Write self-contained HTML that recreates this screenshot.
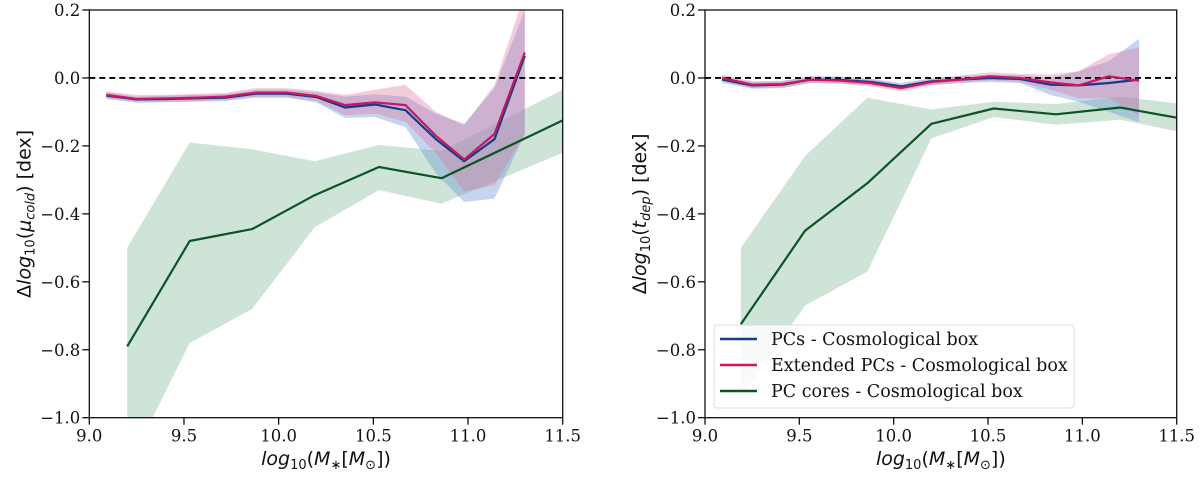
<!DOCTYPE html>
<html><head><meta charset="utf-8">
<style>
html,body{margin:0;padding:0;background:#fff;}
svg{display:block;}
.tick{font-family:"DejaVu Serif","Liberation Serif",serif;font-size:16.5px;fill:#111;}
.lab{font-family:"DejaVu Sans","Liberation Sans",sans-serif;font-size:19px;fill:#111;}
.leg{font-family:"DejaVu Serif","Liberation Serif",serif;font-size:17.5px;fill:#111;}
</style></head>
<body>
<svg id="fig" width="1200" height="477" viewBox="0 0 1200 477" xmlns="http://www.w3.org/2000/svg"></svg>
<script>
// ---------- data ----------
const xTicks = [9.0, 9.5, 10.0, 10.5, 11.0, 11.5];
const yTicks = [0.2, 0.0, -0.2, -0.4, -0.6, -0.8, -1.0];
const binX = [9.09, 9.25, 9.41, 9.56, 9.72, 9.88, 10.04, 10.2, 10.35, 10.51, 10.67, 10.83, 10.98, 11.14, 11.3];
const coreXL = [9.2, 9.53, 9.86, 10.19, 10.53, 10.86, 11.5];
const coreXR = [9.19, 9.53, 9.86, 10.2, 10.53, 10.86, 11.2, 11.5];

// left panel (mu_cold)
const pcL = [-0.052,-0.063,-0.062,-0.060,-0.058,-0.046,-0.046,-0.056,-0.087,-0.078,-0.095,-0.18,-0.245,-0.18,0.065];
const pcLlo = [-0.062,-0.073,-0.072,-0.07,-0.068,-0.058,-0.058,-0.072,-0.118,-0.115,-0.145,-0.28,-0.365,-0.355,-0.165];
const pcLhi = [-0.042,-0.055,-0.052,-0.05,-0.048,-0.035,-0.035,-0.042,-0.055,-0.048,-0.055,-0.105,-0.135,-0.03,0.2];
const extL = [-0.05,-0.062,-0.06,-0.058,-0.055,-0.043,-0.043,-0.053,-0.08,-0.072,-0.08,-0.17,-0.24,-0.165,0.075];
const extLlo = [-0.06,-0.07,-0.07,-0.068,-0.065,-0.055,-0.055,-0.068,-0.11,-0.105,-0.13,-0.22,-0.335,-0.315,-0.165];
const extLhi = [-0.04,-0.05,-0.05,-0.047,-0.044,-0.03,-0.03,-0.038,-0.05,-0.035,-0.02,-0.1,-0.14,-0.02,0.25];
const coreL = [-0.79,-0.48,-0.445,-0.345,-0.262,-0.295,-0.125];
const coreLlo = [-1.15,-0.78,-0.68,-0.44,-0.33,-0.37,-0.22];
const coreLhi = [-0.5,-0.19,-0.21,-0.245,-0.197,-0.215,-0.035];

// right panel (t_dep)
const pcR = [-0.005,-0.022,-0.02,-0.005,-0.006,-0.012,-0.025,-0.01,-0.005,0.0,-0.003,-0.02,-0.022,-0.015,-0.005];
const pcRlo = [-0.015,-0.032,-0.03,-0.015,-0.016,-0.022,-0.035,-0.02,-0.015,-0.012,-0.015,-0.05,-0.07,-0.1,-0.13];
const pcRhi = [0.005,-0.012,-0.01,0.005,0.004,-0.002,-0.015,0.0,0.005,0.01,0.008,0.0,0.02,0.05,0.115];
const extR = [0.0,-0.02,-0.018,-0.005,-0.008,-0.015,-0.03,-0.012,-0.005,0.005,0.0,-0.013,-0.022,0.005,-0.008];
const extRlo = [-0.01,-0.03,-0.028,-0.015,-0.018,-0.025,-0.04,-0.022,-0.015,-0.007,-0.012,-0.035,-0.06,-0.06,-0.11];
const extRhi = [0.01,-0.01,-0.008,0.005,0.002,-0.005,-0.02,-0.002,0.007,0.017,0.012,0.01,0.02,0.07,0.09];
const coreR = [-0.725,-0.45,-0.31,-0.135,-0.09,-0.107,-0.087,-0.117];
const coreRlo = [-0.94,-0.67,-0.57,-0.178,-0.115,-0.138,-0.123,-0.157];
const coreRhi = [-0.5,-0.23,-0.058,-0.093,-0.07,-0.077,-0.055,-0.075];

// ---------- drawing ----------
const NS = "http://www.w3.org/2000/svg";
const svg = document.getElementById('fig');
function mk(tag, attrs, parent){
  const e = document.createElementNS(NS, tag);
  for (const k in attrs) e.setAttribute(k, attrs[k]);
  (parent||svg).appendChild(e);
  return e;
}
const Y0 = 10, Y1 = 417.7;
const yScale = v => Y0 + (0.2 - v) / 1.2 * (Y1 - Y0);

function panel(id, X0, X1, series, ylabelHTML){
  const xs = v => X0 + (v - 9.0) / 2.5 * (X1 - X0);
  const g = mk('g', {});
  
  
  const clipId = 'clip-' + id;
  const cp = mk('clipPath', {id: clipId}, g);
  mk('rect', {x: X0, y: Y0, width: X1 - X0, height: Y1 - Y0}, cp);
  const plot = mk('g', {'clip-path': 'url(#' + clipId + ')'}, g);
  series.forEach(s => {
    let d = '';
    s.x.forEach((xv, i) => { d += (i ? 'L' : 'M') + xs(xv).toFixed(1) + ',' + yScale(s.hi[i]).toFixed(1); });
    for (let i = s.x.length - 1; i >= 0; i--) d += 'L' + xs(s.x[i]).toFixed(1) + ',' + yScale(s.lo[i]).toFixed(1);
    const p = mk('path', {d: d + 'Z', fill: s.fill, 'fill-opacity': s.op, stroke: 'none'}, plot);
    
    
  });
  const z = mk('line', {x1: X0, x2: X1, y1: yScale(0), y2: yScale(0), stroke: '#000', 'stroke-width': 1.8, 'stroke-dasharray': '6,4'}, plot);
  
  
  series.forEach(s => {
    const pts = s.x.map((xv, i) => xs(xv).toFixed(1) + ',' + yScale(s.y[i]).toFixed(1)).join(' ');
    const l = mk('polyline', {points: pts, fill: 'none', stroke: s.color, 'stroke-width': 2.2, 'stroke-linejoin': 'round'}, plot);
    
    
  });
  const fr = mk('rect', {x: X0, y: Y0, width: X1 - X0, height: Y1 - Y0, fill: 'none', stroke: '#111', 'stroke-width': 1.3}, g);
  
  
  xTicks.forEach(t => {
    const x = xs(t);
    mk('line', {x1: x, x2: x, y1: Y1, y2: Y1 + 7, stroke: '#111', 'stroke-width': 1.3}, g);
    const tx = mk('text', {x: x, y: Y1 + 24, 'text-anchor': 'middle', class: 'tick'}, g);
    tx.textContent = t.toFixed(1);
    
    
  });
  yTicks.forEach(t => {
    const y = yScale(t);
    mk('line', {x1: X0 - 7, x2: X0, y1: y, y2: y, stroke: '#111', 'stroke-width': 1.3}, g);
    const tx = mk('text', {x: X0 - 9, y: y + 6, 'text-anchor': 'end', class: 'tick'}, g);
    tx.textContent = (t < 0 ? '\u2212' : '') + Math.abs(t).toFixed(1);
    
    
  });
  const xl = mk('text', {x: (X0 + X1) / 2, y: 465, 'text-anchor': 'middle', class: 'lab'}, g);
  xl.innerHTML = '<tspan font-style="italic">log</tspan><tspan font-size="13" dy="4">10</tspan><tspan dy="-4">(</tspan><tspan font-style="italic">M</tspan><tspan font-size="13" dy="4">∗</tspan><tspan dy="-4">[</tspan><tspan font-style="italic">M</tspan><tspan font-size="13" dy="4">⊙</tspan><tspan dy="-4">])</tspan>';
  
  
  const yl = mk('text', {x: 0, y: 0, 'text-anchor': 'middle', class: 'lab', transform: 'translate(' + (X0 - 59) + ',' + ((Y0 + Y1) / 2) + ') rotate(-90)'}, g);
  yl.innerHTML = ylabelHTML;
  
  
  return g;
}

const BLUE = '#123c8c', PINK = '#c8185f', GREEN = '#0b5424';
panel('left-panel', 89.3, 562.7, [
  {name: 'pc-cores', x: coreXL, y: coreL, lo: coreLlo, hi: coreLhi, color: GREEN, fill: '#4a9a68', op: 0.27},
  {name: 'pcs', x: binX, y: pcL, lo: pcLlo, hi: pcLhi, color: BLUE, fill: '#6f95d6', op: 0.4},
  {name: 'extended-pcs', x: binX, y: extL, lo: extLlo, hi: extLhi, color: PINK, fill: '#e0709c', op: 0.35}
], '<tspan>Δ</tspan><tspan font-style="italic">log</tspan><tspan font-size="13" dy="4">10</tspan><tspan dy="-4">(</tspan><tspan font-style="italic">μ</tspan><tspan font-size="13" font-style="italic" dy="4">cold</tspan><tspan dy="-4">) [dex]</tspan>');

panel('right-panel', 705, 1176.7, [
  {name: 'pc-cores', x: coreXR, y: coreR, lo: coreRlo, hi: coreRhi, color: GREEN, fill: '#4a9a68', op: 0.27},
  {name: 'pcs', x: binX, y: pcR, lo: pcRlo, hi: pcRhi, color: BLUE, fill: '#6f95d6', op: 0.4},
  {name: 'extended-pcs', x: binX, y: extR, lo: extRlo, hi: extRhi, color: PINK, fill: '#e0709c', op: 0.35}
], '<tspan>Δ</tspan><tspan font-style="italic">log</tspan><tspan font-size="13" dy="4">10</tspan><tspan dy="-4">(</tspan><tspan font-style="italic">t</tspan><tspan font-size="13" font-style="italic" dy="4">dep</tspan><tspan dy="-4">) [dex]</tspan>');

const lg = mk('g', {});


mk('rect', {x: 714, y: 325, width: 360, height: 83, rx: 3, fill: '#fff', 'fill-opacity': 0.85, stroke: '#ddd', 'stroke-width': 1}, lg);
const legLabels = ['PCs - Cosmological box', 'Extended PCs - Cosmological box', 'PC cores - Cosmological box'];
const legColors = [BLUE, PINK, GREEN];
legLabels.forEach((t, i) => {
  const y = 339 + i * 26;
  const e = mk('g', {}, lg);
  
  
  mk('line', {x1: 720, x2: 757, y1: y, y2: y, stroke: legColors[i], 'stroke-width': 2.4}, e);
  const tx = mk('text', {x: 771, y: y + 6, class: 'leg'}, e);
  tx.textContent = t;
});
</script>
</body></html>
